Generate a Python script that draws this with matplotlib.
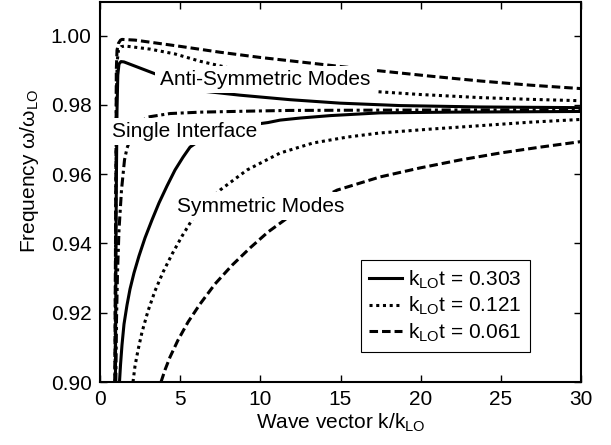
import matplotlib
matplotlib.use("Agg")
import matplotlib.pyplot as plt

plt.rcParams['font.family'] = ['Liberation Sans', 'DejaVu Sans']
plt.rcParams['mathtext.fontset'] = 'custom'
plt.rcParams['mathtext.rm'] = 'Liberation Sans'
plt.rcParams['mathtext.it'] = 'Liberation Sans:italic'

# ---- data ----
# Single interface (dash-dot)
k_si = [0.986, 1.029, 1.092, 1.185, 1.341, 1.528, 1.684, 2.059, 2.495, 2.994, 4.367, 6.238, 9.358, 11.85, 18.71, 30.0]
w_si = [0.9000, 0.9179, 0.9315, 0.9439, 0.9554, 0.9641, 0.9675, 0.9722, 0.9750, 0.9765, 0.9775, 0.9779, 0.9782, 0.9784, 0.9785, 0.9786]

# k_LO t = 0.303 (solid): anti-symmetric and symmetric branches
k_a303 = [0.961, 1.011, 1.061, 1.110, 1.185, 1.310, 1.497, 3.306, 4.367, 5.303, 6.363, 8.734, 11.85, 14.97, 18.71, 23.71, 30.0]
w_a303 = [0.9000, 0.9525, 0.9785, 0.9886, 0.9918, 0.9925, 0.9924, 0.9892, 0.9873, 0.9857, 0.9840, 0.9828, 0.9815, 0.9805, 0.9798, 0.9794, 0.9792]
k_s303 = [1.216, 1.279, 1.372, 1.497, 1.684, 1.871, 2.121, 2.433, 2.807, 3.244, 3.681, 4.180, 4.679, 5.178, 5.614,
          6.238, 7.174, 8.422, 10.48, 11.23, 12.48, 14.35, 17.47, 21.83, 26.20, 30.0]
w_s303 = [0.9000, 0.9049, 0.9107, 0.9167, 0.9222, 0.9268, 0.9315, 0.9364, 0.9416, 0.9468, 0.9517, 0.9566, 0.9612, 0.9649, 0.9678,
          0.9698, 0.9719, 0.9736, 0.9749, 0.9756, 0.9762, 0.9769, 0.9777, 0.9779, 0.9780, 0.9781]

# k_LO t = 0.121 (dotted)
k_a121 = [0.942, 0.986, 1.029, 1.079, 1.154, 1.310, 1.560, 3.119, 4.679, 6.238, 8.110, 9.981, 11.85, 13.72, 16.34, 19.96, 23.71, 26.82, 30.0]
w_a121 = [0.9000, 0.9525, 0.9843, 0.9929, 0.9958, 0.9968, 0.9970, 0.9961, 0.9947, 0.9926, 0.9906, 0.9887, 0.9872, 0.9859, 0.9841, 0.9830, 0.9821, 0.9816, 0.9812]
k_s121 = [2.059, 2.183, 2.371, 2.620, 2.994, 3.431, 3.930, 4.492, 5.115, 5.739, 6.550, 7.486, 9.170, 11.23, 13.29, 15.41, 17.47, 20.59, 23.71, 26.82, 30.0]
w_s121 = [0.9000, 0.9046, 0.9092, 0.9144, 0.9205, 0.9263, 0.9317, 0.9369, 0.9421, 0.9468, 0.9514, 0.9554, 0.9612, 0.9661, 0.9690, 0.9707, 0.9719, 0.9730, 0.9740, 0.9750, 0.9758]

# k_LO t = 0.061 (dashed)
k_a061 = [0.92, 0.998, 1.017, 1.061, 1.154, 1.279, 1.372, 2.183, 3.119, 4.055, 4.991, 7.486, 9.981, 12.48, 14.97, 17.28, 20.59, 23.71, 26.82, 30.0]
w_a061 = [0.9000, 0.9670, 0.9900, 0.9958, 0.9978, 0.9987, 0.9989, 0.9987, 0.9981, 0.9975, 0.9969, 0.9952, 0.9937, 0.9924, 0.9911, 0.9899, 0.9883, 0.9869, 0.9857, 0.9847]
k_s061 = [3.805, 4.055, 4.367, 4.866, 5.490, 6.238, 7.174, 8.235, 9.358, 10.48, 11.67, 13.23, 14.79, 17.47, 19.96, 22.46, 24.95, 27.45, 30.0]
w_s061 = [0.9000, 0.9035, 0.9072, 0.9121, 0.9173, 0.9225, 0.9283, 0.9337, 0.9387, 0.9433, 0.9473, 0.9517, 0.9554, 0.9592, 0.9618, 0.9641, 0.9661, 0.9678, 0.9694]

x_ticks = [0, 5, 10, 15, 20, 25, 30]
y_ticks = [0.90, 0.92, 0.94, 0.96, 0.98, 1.00]
legend_labels = [r'k$_{\mathrm{LO}}$t = 0.303', r'k$_{\mathrm{LO}}$t = 0.121', r'k$_{\mathrm{LO}}$t = 0.061']

# ---- figure ----
fig = plt.figure(figsize=(6.11, 4.45), dpi=100)
ax = fig.add_axes([100/611, 1-382/445, 481/611, 380/445])

lw = 2.2
solid = '-'
dotted = (0, (1.0, 1.2))
dashed = (0, (2.8, 1.3))
dashdot = (0, (3.0, 1.2, 1.0, 1.2))

ax.plot(k_si, w_si, color='black', lw=lw, ls=dashdot)
l1, = ax.plot(k_a303, w_a303, color='black', lw=lw, ls=solid)
ax.plot(k_s303, w_s303, color='black', lw=lw, ls=solid)
l2, = ax.plot(k_a121, w_a121, color='black', lw=lw, ls=dotted)
ax.plot(k_s121, w_s121, color='black', lw=lw, ls=dotted)
l3, = ax.plot(k_a061, w_a061, color='black', lw=lw, ls=dashed)
ax.plot(k_s061, w_s061, color='black', lw=lw, ls=dashed)

ax.set_xlim(0, 30)
ax.set_ylim(0.90, 1.0097)
ax.set_xticks(x_ticks)
ax.set_yticks(y_ticks)
ax.set_yticklabels([f'{v:.2f}' for v in y_ticks])
ax.tick_params(direction='in', length=5, width=1.0, labelsize=15,
               top=True, right=True, pad=6)
for s in ax.spines.values():
    s.set_linewidth(1.5)

bb = dict(facecolor='white', edgecolor='none', pad=3.2)
ax.text(10.29, 0.9873, 'Anti-Symmetric Modes', fontsize=15, ha='center', va='center', bbox=bb, zorder=5)
ax.text(5.27, 0.9723, 'Single Interface', fontsize=15, ha='center', va='center', bbox=bb, zorder=5)
ax.text(10.01, 0.9508, 'Symmetric Modes', fontsize=15, ha='center', va='center', bbox=bb, zorder=5)

ax.set_xlabel(r'Wave vector k/k$_{\mathrm{LO}}$', fontsize=15, labelpad=2)
ax.set_ylabel(r'Frequency ω/ω$_{\mathrm{LO}}$', fontsize=15)
ax.yaxis.set_label_coords(-0.123, 0.554)

leg = ax.legend([l1, l2, l3], legend_labels, loc='upper left',
                bbox_to_anchor=((361-100)/481, (382-260)/380),
                fontsize=15, frameon=True, fancybox=False, framealpha=1,
                edgecolor='black', borderaxespad=0, borderpad=0.4,
                handlelength=1.55, handletextpad=0.3, labelspacing=0.2)
leg.get_frame().set_linewidth(0.8)
leg.set_zorder(6)

fig.savefig('out.png', dpi=100)
